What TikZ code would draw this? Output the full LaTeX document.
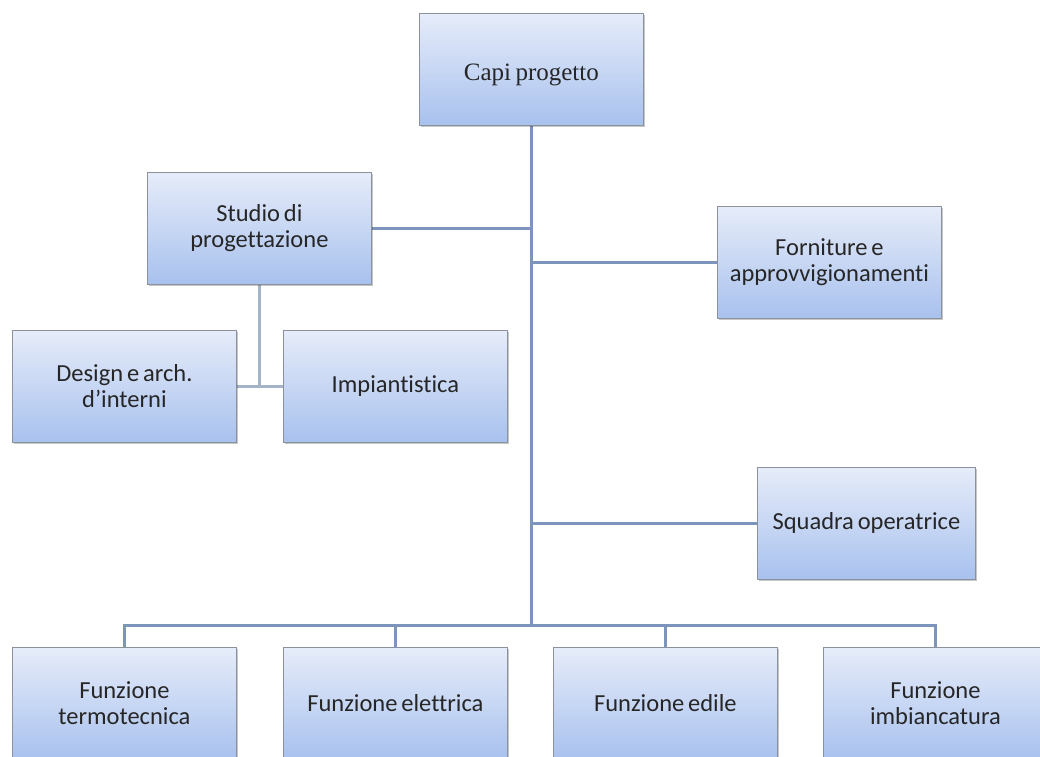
\documentclass[tikz,border=0pt]{standalone}
\usepackage{fontspec}
\setmainfont{Carlito}[Ligatures=NoCommon, WordSpace=0.7]
\newfontfamily\capiserif{Liberation Serif}[WordSpace=0.7]
\usetikzlibrary{shadows,backgrounds}
\definecolor{boxtop}{HTML}{E6ECF9}
\definecolor{boxbot}{HTML}{A8C1EE}
\definecolor{boxline}{HTML}{8C929C}
\definecolor{conn}{HTML}{7D95BD}
\definecolor{conn2}{HTML}{A4B3C8}
\definecolor{txt}{HTML}{262626}
\tikzset{
  orgbox/.style={draw=boxline, line width=0.8pt, top color=boxtop, bottom color=boxbot,
    minimum width=224pt, minimum height=112pt, align=center,
    font=\fontsize{24.5}{26}\selectfont, text=txt, inner sep=0pt, anchor=north west,
    drop shadow={shadow xshift=2pt, shadow yshift=-2pt, fill=black, opacity=0.22}},
  link/.style={draw=conn, line width=3pt},
  linklight/.style={draw=conn2, line width=3pt},
}
\begin{document}
\begin{tikzpicture}[x=1pt,y=-1pt]
\clip (0,0) rectangle (1040,756);
\useasboundingbox (0,0) rectangle (1040,756);
% boxes
\node[orgbox, font=\capiserif\fontsize{25}{28}\selectfont, text height=22pt, text depth=0pt] (capi) at (419,13) {Capi progetto};
\node[orgbox] (studio) at (147,172) {Studio di\\progettazione};
\node[orgbox] (forn) at (717,206) {Forniture e\\approvvigionamenti};
\node[orgbox] (design) at (12,330) {Design e arch.\\d’interni};
\node[orgbox] (impi) at (283,330) {Impiantistica};
\node[orgbox, minimum width=218pt] (squadra) at (757,467) {Squadra operatrice};
\node[orgbox] (term) at (12,647) {Funzione\\termotecnica};
\node[orgbox] (elet) at (283,647) {Funzione elettrica};
\node[orgbox] (edile) at (553,647) {Funzione edile};
\node[orgbox] (imbi) at (823,647) {Funzione\\imbiancatura};
\coordinate (bus) at (0,625);
% connectors
\begin{scope}[on background layer]
\fill[white] (0,0) rectangle (1040,756);
\draw[link] (capi.south) -- (capi.south |- bus);
\draw[link] (studio.east) -- (capi.south |- studio.east);
\draw[link] (forn.west) -- (capi.south |- forn.west);
\draw[link] (squadra.west) -- (capi.south |- squadra.west);
\draw[link] (term.north) -- (term.north |- bus) -- (imbi.north |- bus) -- (imbi.north);
\draw[link] (elet.north) -- (elet.north |- bus);
\draw[link] (edile.north) -- (edile.north |- bus);
\draw[linklight] (studio.south) -- (studio.south |- design.east);
\draw[linklight] (design.east) -- (impi.west);
\end{scope}
\end{tikzpicture}
\end{document}
